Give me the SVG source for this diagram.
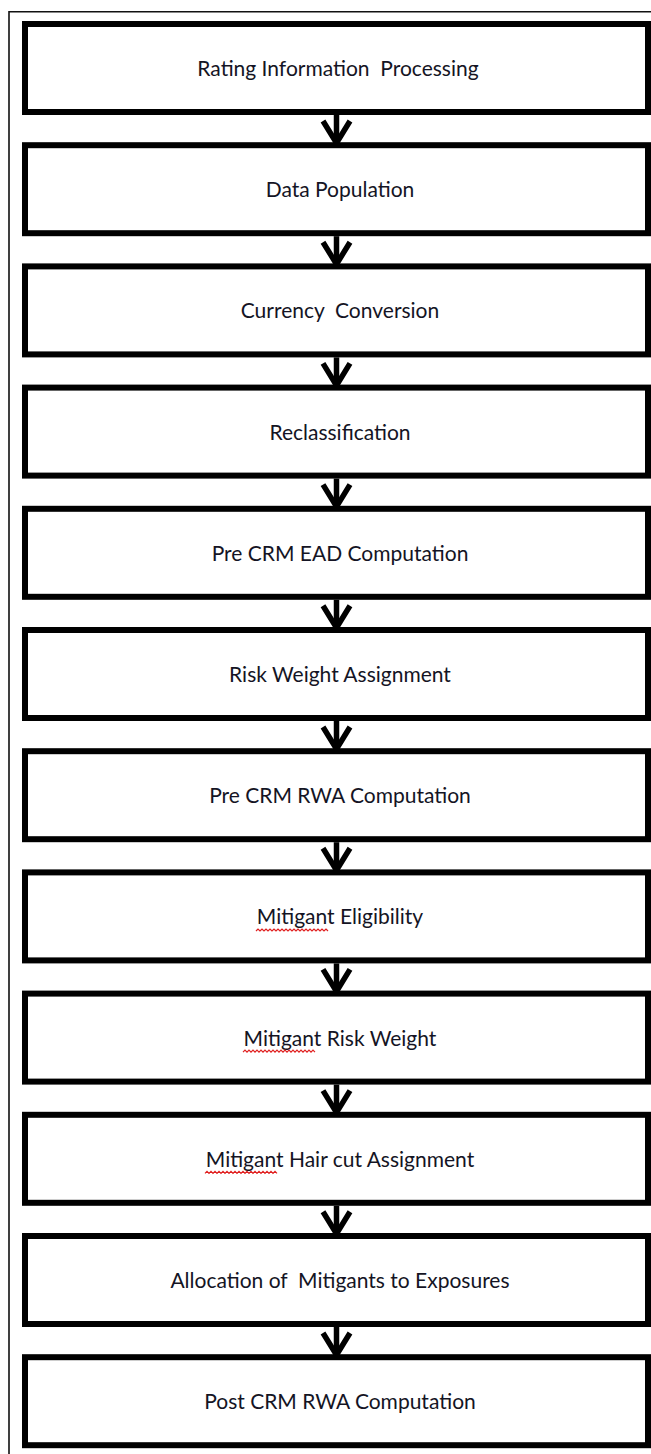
<svg xmlns="http://www.w3.org/2000/svg" width="651" height="1454" viewBox="0 0 651 1454">
<style>
.box{fill:#fff;stroke:#000;stroke-width:6}
.lbl{font-family:Lato,"Liberation Sans",sans-serif;font-size:21px;fill:#141424;text-anchor:middle}
.arr{fill:none;stroke:#000;stroke-width:5.5;stroke-linecap:butt;stroke-linejoin:miter}
.sq{fill:none;stroke:#e02020;stroke-width:1.2}
</style>
<defs>
<g id="arrow"><path class="arr" d="M336.5 0 V29"/><path class="arr" d="M323 6 L336.5 28 L350 6"/></g>
<path id="zz" class="sq" d="M0 0 l2 -2 l2 2 l2 -2 l2 2 l2 -2 l2 2 l2 -2 l2 2 l2 -2 l2 2 l2 -2 l2 2 l2 -2 l2 2 l2 -2 l2 2 l2 -2 l2 2 l2 -2 l2 2 l2 -2 l2 2 l2 -2 l2 2 l2 -2 l2 2 l2 -2 l2 2 l2 -2 l2 2 l2 -2 l2 2 l2 -2 l2 2 l2 -2 l2 2"/>
</defs>
<rect x="0" y="0" width="651" height="1454" fill="#fff"/>
<path d="M9 1454 V11.8 H651" fill="none" stroke="#111" stroke-width="1.6"/>
<g id="connectors">
<use href="#arrow" y="115"/>
<use href="#arrow" y="236.2"/>
<use href="#arrow" y="357.4"/>
<use href="#arrow" y="478.6"/>
<use href="#arrow" y="599.8"/>
<use href="#arrow" y="721"/>
<use href="#arrow" y="842.2"/>
<use href="#arrow" y="963.4"/>
<use href="#arrow" y="1084.6"/>
<use href="#arrow" y="1205.8"/>
<use href="#arrow" y="1327"/>
</g>
<g id="n1"><rect class="box" x="25" y="24" width="623" height="88"/><text class="lbl" x="338" y="76" xml:space="preserve">Rating Information  Processing</text></g>
<g id="n2"><rect class="box" x="25" y="145.2" width="623" height="88"/><text class="lbl" x="340" y="197.2">Data Population</text></g>
<g id="n3"><rect class="box" x="25" y="266.4" width="623" height="88"/><text class="lbl" x="340" y="318.4" xml:space="preserve">Currency  Conversion</text></g>
<g id="n4"><rect class="box" x="25" y="387.6" width="623" height="88"/><text class="lbl" x="340" y="439.6">Reclassification</text></g>
<g id="n5"><rect class="box" x="25" y="508.8" width="623" height="88"/><text class="lbl" x="340" y="560.8">Pre CRM EAD Computation</text></g>
<g id="n6"><rect class="box" x="25" y="630" width="623" height="88"/><text class="lbl" x="340" y="682">Risk Weight Assignment</text></g>
<g id="n7"><rect class="box" x="25" y="751.2" width="623" height="88"/><text class="lbl" x="340" y="803.2">Pre CRM RWA Computation</text></g>
<g id="n8"><rect class="box" x="25" y="872.4" width="623" height="88"/><text class="lbl" x="340" y="924.4">Mitigant Eligibility</text><use href="#zz" x="256" y="931"/></g>
<g id="n9"><rect class="box" x="25" y="993.6" width="623" height="88"/><text class="lbl" x="340" y="1045.6">Mitigant Risk Weight</text><use href="#zz" x="243" y="1052.2"/></g>
<g id="n10"><rect class="box" x="25" y="1114.8" width="623" height="88"/><text class="lbl" x="340" y="1166.8">Mitigant Hair cut Assignment</text><use href="#zz" x="205" y="1173.4"/></g>
<g id="n11"><rect class="box" x="25" y="1236" width="623" height="88"/><text class="lbl" x="340" y="1288" xml:space="preserve">Allocation of  Mitigants to Exposures</text></g>
<g id="n12"><rect class="box" x="25" y="1357.2" width="623" height="88"/><text class="lbl" x="340" y="1409.2">Post CRM RWA Computation</text></g>
</svg>
